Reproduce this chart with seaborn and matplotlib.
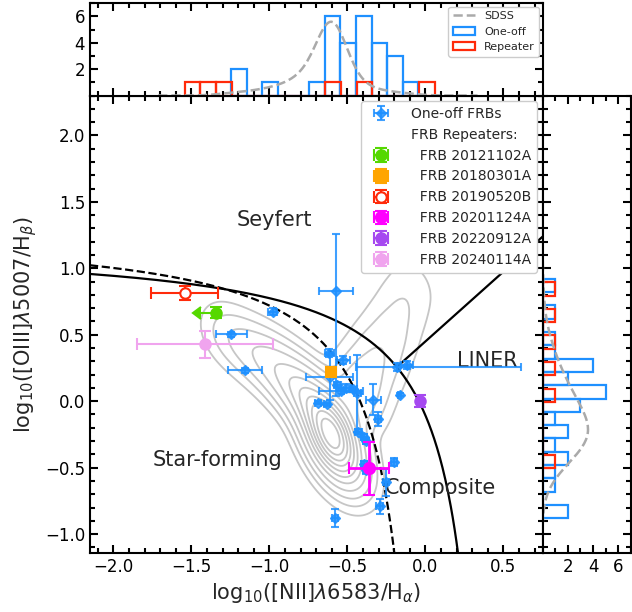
import numpy as np
import pandas as pd
import matplotlib
matplotlib.use("Agg")
import matplotlib.pyplot as plt
from matplotlib.patches import Patch
from matplotlib.lines import Line2D
from matplotlib.ticker import MultipleLocator
import seaborn as sns

# ---------------- data ----------------
# one-off FRB hosts: BPT coordinates and (asymmetric) errors
oneoff_x = [-0.574, -0.979, -1.245, -1.155, -0.617, -0.526, -0.615, -0.185, -0.117, -0.564,
            -0.510, -0.543, -0.462, -0.436, -0.334, -0.164, -0.304, -0.687, -0.632, -0.430,
            -0.394, -0.383, -0.394, -0.200, -0.255, -0.294, -0.579, -0.380]
oneoff_y = [0.830, 0.673, 0.503, 0.233, 0.365, 0.310, 0.180, 0.257, 0.270, 0.125,
            0.100, 0.077, 0.090, 0.058, 0.012, 0.048, -0.135, -0.010, -0.023, -0.230,
            -0.270, -0.300, -0.473, -0.455, -0.610, -0.790, -0.880, -0.520]
oneoff_xerr_lo = [0.11, 0.03, 0.10, 0.11, 0.03, 0.04, 0.15, 0.26, 0.04, 0.02,
                  0.03, 0.14, 0.02, 0.02, 0.05, 0.01, 0.02, 0.02, 0.02, 0.02,
                  0.02, 0.02, 0.02, 0.02, 0.02, 0.02, 0.02, 0.02]
oneoff_xerr_hi = [0.11, 0.03, 0.10, 0.11, 0.03, 0.04, 0.15, 0.80, 0.04, 0.02,
                  0.03, 0.14, 0.02, 0.02, 0.05, 0.01, 0.02, 0.02, 0.02, 0.02,
                  0.02, 0.02, 0.02, 0.02, 0.02, 0.02, 0.02, 0.02]
oneoff_yerr_lo = [0.79, 0.025, 0.02, 0.02, 0.03, 0.03, 0.17, 0.03, 0.03, 0.02,
                  0.03, 0.02, 0.02, 0.29, 0.115, 0.01, 0.05, 0.01, 0.01, 0.02,
                  0.02, 0.02, 0.02, 0.03, 0.10, 0.056, 0.07, 0.03]
oneoff_yerr_hi = [0.43, 0.025, 0.02, 0.02, 0.03, 0.03, 0.17, 0.03, 0.03, 0.02,
                  0.03, 0.02, 0.02, 0.29, 0.115, 0.01, 0.05, 0.01, 0.01, 0.02,
                  0.02, 0.02, 0.02, 0.03, 0.10, 0.056, 0.07, 0.03]

# repeating FRB hosts
rep_names = ["FRB 20121102A", "FRB 20180301A", "FRB 20190520B",
             "FRB 20201124A", "FRB 20220912A", "FRB 20240114A"]
rep_x = [-1.340, -0.603, -1.542, -0.362, -0.035, -1.415]
rep_y = [0.665, 0.223, 0.815, -0.505, 0.005, 0.428]
rep_xerr = [0.10, 0.02, 0.215, 0.13, 0.01, 0.435]
rep_yerr = [0.04, 0.02, 0.05, 0.20, 0.045, 0.10]
rep_xuplim = [True, False, False, False, False, False]
rep_colors = ["#55d800", "#ffa500", "#ff2a0a", "#ff00ff", "#a649f0", "#f0a4ee"]
rep_markers = ["o", "s", "o", "o", "o", "o"]
rep_open = [False, False, True, False, False, False]

# SDSS comparison sample: representative points read along its ridges (x, y, weight)
sdss_x = [-0.60, -0.62, -0.57, -0.68, -0.75, -0.83, -0.92, -1.02, -1.12, -1.22, -1.30,
          -0.53, -0.49,
          -0.45, -0.38, -0.30, -0.22, -0.15, -0.08]
sdss_y = [-0.27, -0.17, -0.37, -0.07, 0.03, 0.12, 0.22, 0.31, 0.39, 0.46, 0.52,
          -0.47, -0.55,
          0.02, 0.18, 0.35, 0.52, 0.70, 0.87]
sdss_w = [8.0, 6.0, 5.0, 4.0, 3.0, 2.2, 1.6, 1.1, 0.7, 0.45, 0.25,
          2.3, 0.9,
          1.4, 1.0, 0.7, 0.45, 0.3, 0.2]
sdss_peak_x = 5.6   # height of dashed SDSS curve in top panel
sdss_peak_y = 3.6   # height of dashed SDSS curve in right panel
sdss_levels = [0.01, 0.04, 0.1, 0.2, 0.3, 0.4, 0.5, 0.6, 0.7, 0.8, 0.9]

# demarcation lines
kewley_a, kewley_b, kewley_c = 0.61, 0.47, 1.19
kauff_a, kauff_b, kauff_c = 0.61, 0.05, 1.30
schaw_m, schaw_c = 1.05, 0.45

region_labels = ["Seyfert", "LINER", "Star-forming", "Composite"]
region_x = [-1.21, 0.20, -1.75, -0.26]
region_y = [1.36, 0.30, -0.44, -0.65]

XLIM = (-2.15, 0.75)
YLIM = (-1.14, 2.30)

BLUE = "#1e90ff"
RED = "#ff2a0a"
GRAY = "#aaaaaa"

# ---------------- style ----------------
sns.set_style("ticks")
plt.rcParams.update({
    "font.family": ["DejaVu Sans"],
    "xtick.direction": "in", "ytick.direction": "in",
    "xtick.top": True, "ytick.right": True,
    "xtick.major.size": 6, "ytick.major.size": 6,
    "xtick.minor.size": 3.5, "ytick.minor.size": 3.5,
    "xtick.major.width": 1.5, "ytick.major.width": 1.5,
    "xtick.minor.width": 1.5, "ytick.minor.width": 1.5,
    "axes.linewidth": 1.5,
    "xtick.labelsize": 12, "ytick.labelsize": 12,
    "xtick.color": "black", "ytick.color": "black",
    "axes.edgecolor": "black",
})

fig = plt.figure(figsize=(6.32, 6.12), dpi=100)
L, B, W, H = 90 / 632, (612 - 552.7) / 612, (542.5 - 90) / 632, (552.7 - 95.5) / 612
ax = fig.add_axes([L, B, W, H])
ax_top = fig.add_axes([L, B + H, W, (95.5 - 3.3) / 612], sharex=ax)
ax_r = fig.add_axes([L + W, B, (631 - 542.5) / 632, H], sharey=ax)

# ---------------- main panel ----------------
sns.kdeplot(x=sdss_x, y=sdss_y, weights=sdss_w, levels=sdss_levels,
            bw_adjust=0.7, color="#c6c6c6", linewidths=1.3, ax=ax, zorder=1)

xk = np.linspace(XLIM[0], 0.21, 400)
ax.plot(xk, kewley_a / (xk - kewley_b) + kewley_c, color="black", lw=1.6, zorder=2)
xf = np.linspace(XLIM[0], -0.19, 400)
ax.plot(xf, kauff_a / (xf - kauff_b) + kauff_c, color="black", lw=1.6, ls="--", zorder=2)
xs = np.linspace(-0.184, XLIM[1], 50)
ax.plot(xs, schaw_m * xs + schaw_c, color="black", lw=1.6, zorder=2)

oneoff = ax.errorbar(oneoff_x, oneoff_y,
                     xerr=[oneoff_xerr_lo, oneoff_xerr_hi],
                     yerr=[oneoff_yerr_lo, oneoff_yerr_hi],
                     fmt="D", ms=5, color=BLUE, alpha=0.85, elinewidth=1.5,
                     capsize=3, capthick=1.5, zorder=4, label="One-off FRBs")

handles = [oneoff, Line2D([], [], ls="none", marker="none")]
labels = ["One-off FRBs", "FRB Repeaters:"]
for i in range(len(rep_names)):
    mfc = "white" if rep_open[i] else rep_colors[i]
    big = rep_names[i] == "FRB 20201124A"
    h = ax.errorbar(rep_x[i], rep_y[i], xerr=rep_xerr[i], yerr=rep_yerr[i],
                    xuplims=rep_xuplim[i], fmt=rep_markers[i],
                    ms=8 if big else 7.5, color=rep_colors[i], mfc=mfc,
                    mew=1.5, elinewidth=2.0 if big else 1.5, capsize=4,
                    capthick=1.5, zorder=5)
    handles.append(h)
    labels.append("  " + rep_names[i])

for t, x, y in zip(region_labels, region_x, region_y):
    ax.text(x, y, t, fontsize=15, ha="left", va="center", zorder=3)

ax.set_xlim(*XLIM)
ax.set_ylim(*YLIM)
ax.xaxis.set_major_locator(MultipleLocator(0.5))
ax.xaxis.set_minor_locator(MultipleLocator(0.1))
ax.yaxis.set_major_locator(MultipleLocator(0.5))
ax.yaxis.set_minor_locator(MultipleLocator(0.1))
ax.tick_params(which="both", top=True, right=True)
ax.set_xlabel(r"log$_{10}$([NII]$\lambda$6583/H$_{\alpha}$)", fontsize=15)
ax.set_ylabel(r"log$_{10}$([OIII]$\lambda$5007/H$_{\beta}$)", fontsize=15)

leg = ax.legend(handles, labels, loc="upper right", fontsize=10, framealpha=1,
                edgecolor="#cccccc", borderaxespad=0.4, handletextpad=1.2)
leg.set_zorder(10)

# ---------------- histograms ----------------
def edges(vals):
    lo, hi = min(vals), max(vals)
    return np.arange(lo, hi + 0.1, 0.1)

sns.histplot(x=oneoff_x, bins=edges(oneoff_x), fill=False, element="bars",
             color=BLUE, linewidth=1.6, ax=ax_top)
sns.histplot(x=rep_x, bins=edges(rep_x), fill=False, element="bars",
             color=RED, linewidth=1.6, ax=ax_top)
sns.kdeplot(x=sdss_x, weights=sdss_w, bw_adjust=0.7, color=GRAY, lw=1.8,
            ls="--", ax=ax_top)
ln = ax_top.lines[-1]
ln.set_ydata(np.asarray(ln.get_ydata()) / np.max(ln.get_ydata()) * sdss_peak_x)

sns.histplot(y=oneoff_y, bins=edges(oneoff_y), fill=False, element="bars",
             color=BLUE, linewidth=1.6, ax=ax_r)
sns.histplot(y=rep_y, bins=edges(rep_y), fill=False, element="bars",
             color=RED, linewidth=1.6, ax=ax_r)
sns.kdeplot(y=sdss_y, weights=sdss_w, bw_adjust=0.9, color=GRAY, lw=1.8,
            ls="--", ax=ax_r)
ln = ax_r.lines[-1]
ln.set_xdata(np.asarray(ln.get_xdata()) / np.max(ln.get_xdata()) * sdss_peak_y)

ax_top.set_ylim(0, 7)
ax_top.set_ylabel("")
ax_top.set_xlabel("")
ax_top.set_yticks([2, 4, 6])
ax_top.yaxis.set_minor_locator(MultipleLocator(1))
ax_top.tick_params(which="both", top=True, right=True, labelbottom=False)
ax_top.legend([Line2D([], [], color=GRAY, ls="--", lw=1.8),
               Patch(fill=False, edgecolor=BLUE, lw=1.6),
               Patch(fill=False, edgecolor=RED, lw=1.6)],
              ["SDSS", "One-off", "Repeater"], loc="upper right", fontsize=8,
              framealpha=1, edgecolor="#cccccc", borderaxespad=0.3)

ax_r.set_xlim(0, 7)
ax_r.set_xlabel("")
ax_r.set_ylabel("")
ax_r.set_xticks([2, 4, 6])
ax_r.xaxis.set_minor_locator(MultipleLocator(1))
ax_r.tick_params(which="both", top=True, right=True, labelleft=False)

ax.set_xlim(*XLIM)
ax.set_ylim(*YLIM)

fig.savefig("out.png", dpi=100)
